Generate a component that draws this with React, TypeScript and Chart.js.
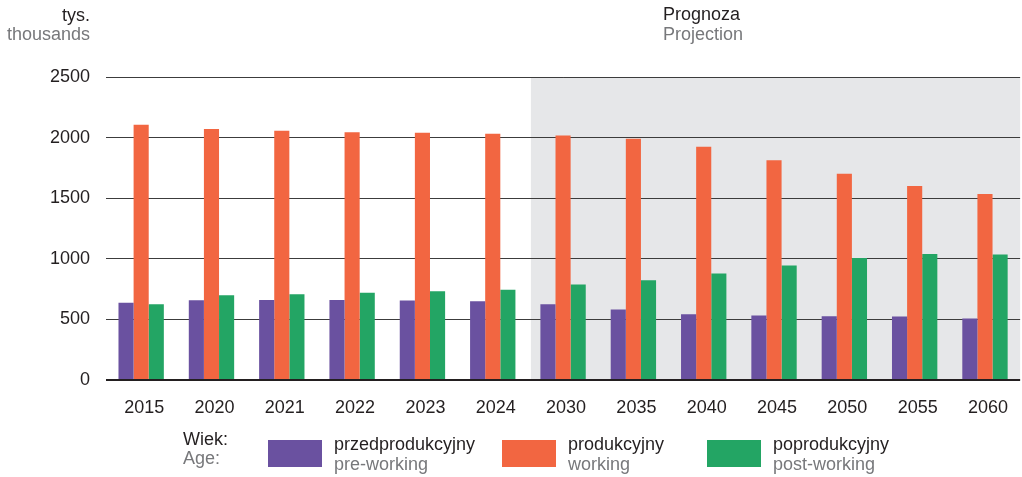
import React, { useEffect, useRef } from "react";
import { Chart, registerables } from "chart.js";

Chart.register(...registerables);

const years = ["2015", "2020", "2021", "2022", "2023", "2024", "2030", "2035", "2040", "2045", "2050", "2055", "2060"];
const preWorking = [637, 659, 661, 661, 656, 650, 626, 582, 543, 532, 526, 524, 507];
const working = [2106, 2070, 2056, 2045, 2040, 2031, 2018, 1990, 1924, 1814, 1701, 1601, 1535];
const postWorking = [626, 700, 708, 719, 733, 744, 788, 824, 879, 945, 1006, 1039, 1036];
const yTicks = [0, 500, 1000, 1500, 2000, 2500];
const projectionStartIndex = 6;

const seriesLabelsPl = ["przedprodukcyjny", "produkcyjny", "poprodukcyjny"];
const seriesLabelsEn = ["pre-working", "working", "post-working"];
const colors = ["#6a51a0", "#f26641", "#23a564"];

const FONT = "'Liberation Sans', Arial, Helvetica, sans-serif";
const DARK = "#231f20";
const GREY = "#77787b";

const shadePlugin = {
  id: "shade",
  beforeDraw(chart: any) {
    const { ctx, chartArea, scales } = chart;
    const x = scales.x;
    const left = (x.getPixelForValue(projectionStartIndex - 1) + x.getPixelForValue(projectionStartIndex)) / 2 + 3;
    ctx.save();
    ctx.fillStyle = "#e6e7e9";
    ctx.fillRect(left, chartArea.top, chartArea.right - left, chartArea.bottom - chartArea.top);
    ctx.restore();
  },
};

function Txt(props: { left?: number; right?: number; baseline: number; color: string; children: any }) {
  const style: any = {
    position: "absolute",
    top: props.baseline - 16.24,
    font: `18px ${FONT}`,
    lineHeight: "20px",
    color: props.color,
    whiteSpace: "nowrap",
  };
  if (props.right !== undefined) {
    style.right = 1022 - props.right;
    style.textAlign = "right";
  } else {
    style.left = props.left;
  }
  return <div style={style}>{props.children}</div>;
}

export default function App() {
  const ref = useRef<HTMLCanvasElement | null>(null);

  useEffect(() => {
    if (!ref.current) return;
    const chart = new Chart(ref.current, {
      type: "bar",
      data: {
        labels: years,
        datasets: [
          { label: seriesLabelsPl[0], data: preWorking, backgroundColor: colors[0] },
          { label: seriesLabelsPl[1], data: working, backgroundColor: colors[1] },
          { label: seriesLabelsPl[2], data: postWorking, backgroundColor: colors[2] },
        ],
      },
      options: {
        responsive: false,
        animation: false,
        layout: { padding: { top: 77, left: 0, right: 0, bottom: 0 } },
        datasets: { bar: { categoryPercentage: 0.645, barPercentage: 1.0, borderWidth: 0 } },
        plugins: { legend: { display: false }, tooltip: { enabled: false }, title: { display: false } },
        scales: {
          x: {
            grid: { display: false, drawTicks: false },
            border: { display: false },
            ticks: { font: { family: FONT, size: 18 }, color: DARK, padding: 17, maxRotation: 0, labelOffset: 3 },
            afterFit: (s: any) => { s.height = 97; },
          },
          y: {
            min: 0,
            max: 2500,
            afterBuildTicks: (s: any) => { s.ticks = yTicks.map((v) => ({ value: v })); },
            ticks: {
              font: { family: FONT, size: 18 },
              color: DARK,
              padding: 16,
              callback: (v: any) => String(v),
            },
            grid: {
              drawTicks: false,
              color: (c: any) => (c.index === 0 ? "#231f20" : "#3c3c3c"),
              lineWidth: (c: any) => (c.index === 0 ? 2 : 1),
            },
            border: { display: false },
            afterFit: (s: any) => { s.width = 106; },
          },
        },
      },
      plugins: [shadePlugin],
    } as any);
    return () => chart.destroy();
  }, []);

  const swatchX = [268, 502, 707];
  const labelX = [334, 568, 773];

  return (
    <div style={{ position: "fixed", left: 0, top: 0, width: 1022, height: 477, background: "#fff", overflow: "hidden" }}>
      <canvas ref={ref} width={1022} height={477} style={{ display: "block", width: 1022, height: 477 }} />
      <Txt right={90} baseline={21} color={DARK}>tys.</Txt>
      <Txt right={90} baseline={40} color={GREY}>thousands</Txt>
      <Txt left={663} baseline={20.5} color={DARK}>Prognoza</Txt>
      <Txt left={663} baseline={40} color={GREY}>Projection</Txt>
      <Txt left={183} baseline={445} color={DARK}>Wiek:</Txt>
      <Txt left={183} baseline={464} color={GREY}>Age:</Txt>
      {colors.map((c, i) => (
        <React.Fragment key={i}>
          <div style={{ position: "absolute", left: swatchX[i], top: 440, width: 54, height: 27, background: c }} />
          <Txt left={labelX[i]} baseline={450.5} color={DARK}>{seriesLabelsPl[i]}</Txt>
          <Txt left={labelX[i]} baseline={470.5} color={GREY}>{seriesLabelsEn[i]}</Txt>
        </React.Fragment>
      ))}
    </div>
  );
}
